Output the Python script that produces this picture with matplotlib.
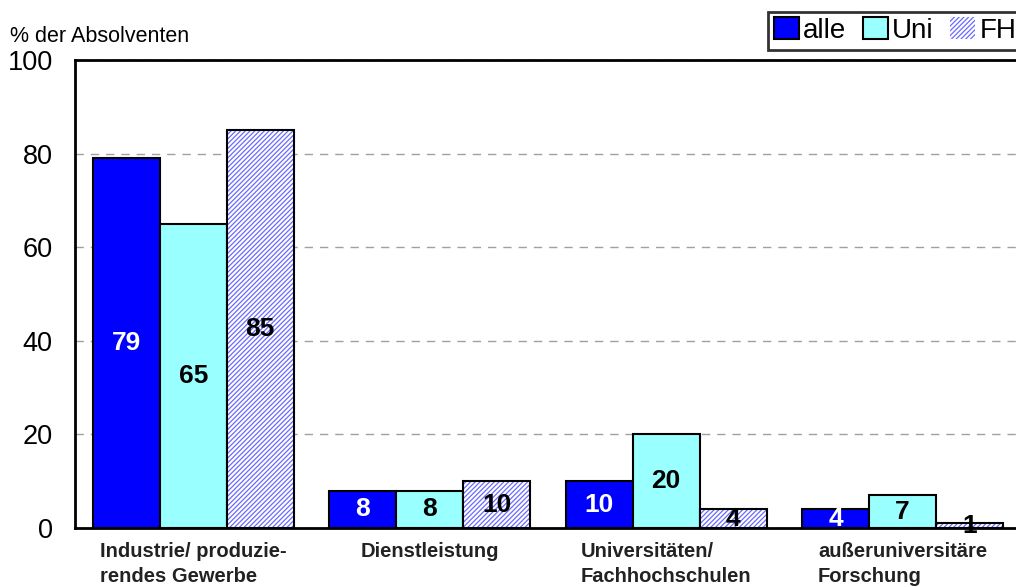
import matplotlib
matplotlib.use("Agg")
from matplotlib import pyplot as plt
from matplotlib.patches import Patch
import numpy as np

plt.rcParams['font.family'] = ['Liberation Sans', 'DejaVu Sans']
plt.rcParams['hatch.linewidth'] = 0.9

kategorien = ['Industrie/ produzie-\nrendes Gewerbe', 'Dienstleistung',
              'Universitäten/\nFachhochschulen', 'außeruniversitäre\nForschung']
alle = [79, 8, 10, 4]
uni = [65, 8, 20, 7]
fh = [85, 10, 4, 1]
serien = ['alle', 'Uni', 'FH']

fig = plt.figure(figsize=(10.16, 5.87), dpi=100)
ax = fig.add_axes([0.0738, 0.1005, 0.931, 0.7973])

x = np.arange(len(kategorien)) + 0.5
w = 0.283

b1 = ax.bar(x - w, alle, w, color='#0000ff', edgecolor='black', linewidth=1.5, label='alle', zorder=3)
b2 = ax.bar(x, uni, w, color='#99ffff', edgecolor='black', linewidth=1.5, label='Uni', zorder=3)
# Schraffur in hellblau, Rahmen schwarz darueber
ax.bar(x + w, fh, w, color='white', edgecolor='#6a6aff', hatch='///////', linewidth=0, zorder=3)
b3 = ax.bar(x + w, fh, w, fill=False, edgecolor='black', linewidth=1.5, zorder=3)

for bars, col in [(b1, 'white'), (b2, 'black'), (b3, 'black')]:
    for b in bars:
        h = b.get_height()
        ax.text(b.get_x() + b.get_width() / 2, h / 2, str(int(h)), ha='center', va='center',
                fontsize=19, fontweight='bold', color=col, zorder=4)

ax.set_xlim(0, 4)
ax.set_ylim(0, 100)
ax.set_yticks([0, 20, 40, 60, 80, 100])
ax.tick_params(axis='y', length=0, labelsize=19.5, pad=16)
ax.tick_params(axis='x', length=0)
ax.set_xticks(x)
ax.set_xticklabels([])
for xi, k in zip(x, kategorien):
    ax.text(xi, -3, k, ha='center', va='top', multialignment='left', fontsize=14.5,
            fontweight='bold', color='#222222', linespacing=1.4)
ax.yaxis.grid(True, linestyle=(0, (6, 5)), color='#a0a0a0', linewidth=1, zorder=0)
for s in ['left', 'bottom', 'top']:
    ax.spines[s].set_linewidth(2)
ax.spines['right'].set_visible(False)

fig.text(0.01, 0.938, '% der Absolventen', fontsize=15.5, va='center', ha='left')

# Legende mit eigenem Handle fuer FH
h_fh = Patch(facecolor='white', edgecolor='#6a6aff', hatch='///////', linewidth=0)
leg = fig.legend(handles=[b1, b2, h_fh], labels=serien, loc='upper left', bbox_to_anchor=(0.756, 0.98),
                 ncol=3, fontsize=20, frameon=True, fancybox=False, edgecolor='black',
                 handlelength=0.9, handleheight=0.85, handletextpad=0.15, columnspacing=0.6,
                 borderpad=0.2, borderaxespad=0)
leg.get_frame().set_linewidth(2)
leg.legend_handles[2].set_edgecolor('#6a6aff')

plt.savefig('out.png', dpi=100)
